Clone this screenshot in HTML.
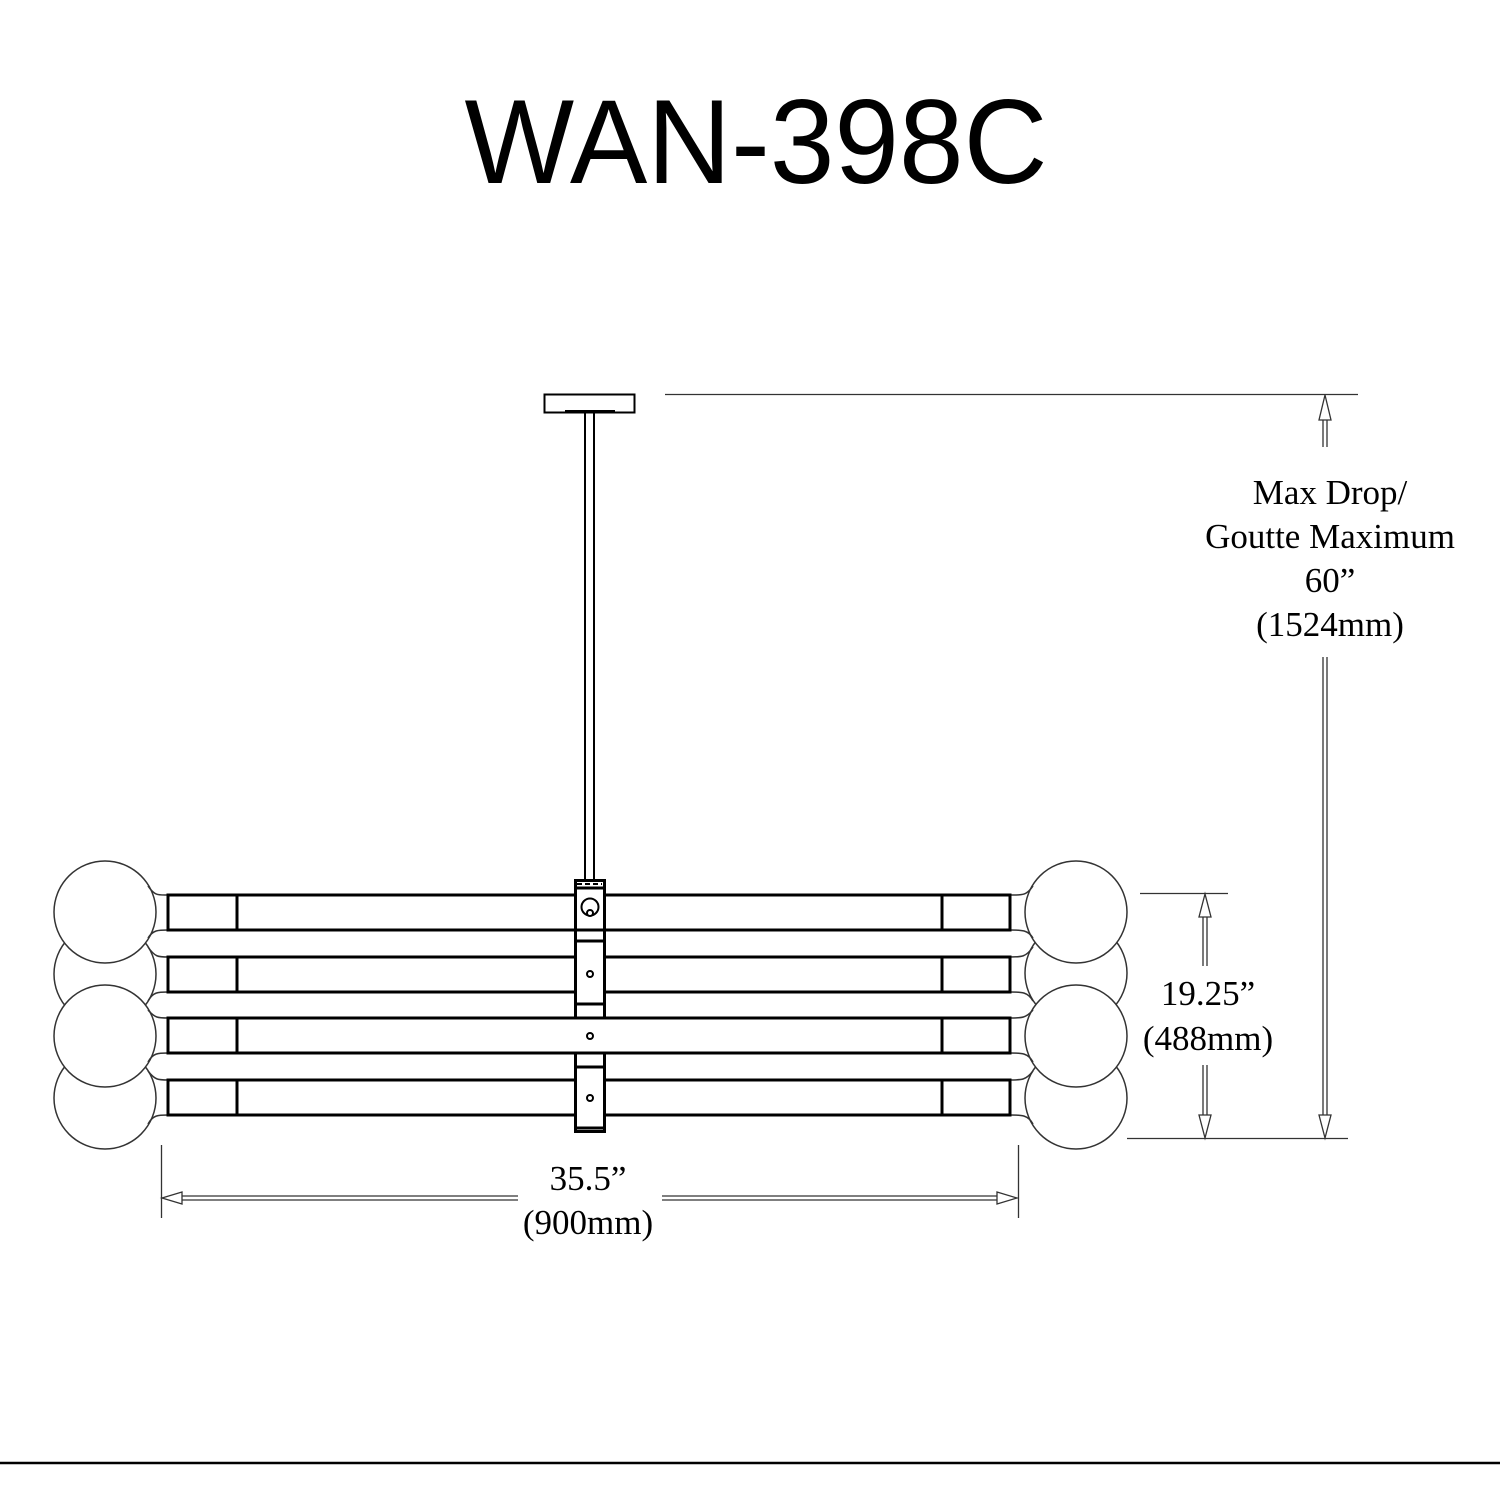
<!DOCTYPE html>
<html><head><meta charset="utf-8"><style>html,body{margin:0;padding:0;background:#fff}svg{display:block}</style></head>
<body>
<svg width="1500" height="1500" viewBox="0 0 1500 1500" xmlns="http://www.w3.org/2000/svg">
<rect width="1500" height="1500" fill="#fff"/>
<text x="756" y="183" font-family="Liberation Sans, sans-serif" font-size="120" text-anchor="middle" textLength="583" lengthAdjust="spacingAndGlyphs">WAN-398C</text>

<rect x="544.5" y="394.5" width="90" height="18" fill="#fff" stroke="#000" stroke-width="2"/>
<line x1="565" y1="411" x2="615" y2="411" stroke="#000" stroke-width="2"/>
<line x1="585" y1="412" x2="585" y2="881" stroke="#000" stroke-width="2"/>
<line x1="594" y1="412" x2="594" y2="881" stroke="#000" stroke-width="2"/>

<g fill="#fff" stroke="#333" stroke-width="1.5">
<circle cx="105" cy="974" r="51"/><circle cx="105" cy="1098" r="51"/>
<circle cx="1076" cy="973" r="51"/><circle cx="1076" cy="1098" r="51"/>
<circle cx="105" cy="912" r="51"/><circle cx="105" cy="1036" r="51"/>
<circle cx="1076" cy="912" r="51"/><circle cx="1076" cy="1036" r="51"/>
</g>
<g fill="none" stroke="#333" stroke-width="1.5">
<path d="M148,886 C155,896 158,895 168,895"/><path d="M148,938 C153,930 158,930 168,930"/>
<path d="M148,947 C155,957 158,957 168,957"/><path d="M148,1001 C153,992 158,992 168,992"/>
<path d="M148,1010 C155,1018 158,1018 168,1018"/><path d="M148,1062 C153,1053 158,1053 168,1053"/>
<path d="M148,1071 C155,1080 158,1080 168,1080"/><path d="M148,1124 C153,1115 158,1115 168,1115"/>
<path d="M1033,886 C1026,896 1022,895 1010,895"/><path d="M1033,938 C1028,930 1022,930 1010,930"/>
<path d="M1033,947 C1026,957 1022,957 1010,957"/><path d="M1033,1001 C1028,992 1022,992 1010,992"/>
<path d="M1033,1010 C1026,1018 1022,1018 1010,1018"/><path d="M1033,1062 C1028,1053 1022,1053 1010,1053"/>
<path d="M1033,1071 C1026,1080 1022,1080 1010,1080"/><path d="M1033,1124 C1028,1115 1022,1115 1010,1115"/>
</g>

<g fill="#fff" stroke="#000" stroke-width="3">
<rect x="168" y="895" width="842" height="35"/>
<rect x="168" y="957" width="842" height="35"/>
<rect x="168" y="1080" width="842" height="35"/>
</g>
<rect x="575.5" y="880.5" width="29" height="251" fill="#fff" stroke="#000" stroke-width="3"/>
<rect x="168" y="1018" width="842" height="35" fill="#fff" stroke="#000" stroke-width="3"/>
<rect x="577" y="1019.5" width="26" height="32" fill="#fff"/>
<g stroke="#000" stroke-width="3">
<line x1="237" y1="895" x2="237" y2="930"/><line x1="237" y1="957" x2="237" y2="992"/><line x1="237" y1="1018" x2="237" y2="1053"/><line x1="237" y1="1080" x2="237" y2="1115"/>
<line x1="942" y1="895" x2="942" y2="930"/><line x1="942" y1="957" x2="942" y2="992"/><line x1="942" y1="1018" x2="942" y2="1053"/><line x1="942" y1="1080" x2="942" y2="1115"/>
<line x1="575" y1="888" x2="604" y2="888"/>
<line x1="575" y1="930" x2="604" y2="930"/>
<line x1="575" y1="941" x2="604" y2="941"/>
<line x1="575" y1="1004" x2="604" y2="1004"/>
<line x1="575" y1="1067" x2="604" y2="1067"/>
<line x1="575" y1="1128" x2="604" y2="1128"/>
</g>
<g stroke="#000" stroke-width="2" fill="#fff">
<line x1="577" y1="884" x2="602" y2="884" stroke-dasharray="5,3"/>
<circle cx="590" cy="907" r="8.5"/>
<circle cx="590" cy="913" r="3"/>
<circle cx="590" cy="974" r="3"/>
<circle cx="590" cy="1036" r="3"/>
<circle cx="590" cy="1098" r="3"/>
</g>

<g stroke="#333" stroke-width="1.3" fill="#fff">
<line x1="665" y1="394.5" x2="1358" y2="394.5"/>
<line x1="1127" y1="1138.5" x2="1348" y2="1138.5"/>
<line x1="1140" y1="893.5" x2="1228" y2="893.5"/>
<line x1="161.5" y1="1145" x2="161.5" y2="1218"/>
<line x1="1018.5" y1="1145" x2="1018.5" y2="1218"/>
<line x1="0" y1="1463" x2="1500" y2="1463" stroke="#000" stroke-width="2.5"/>
<line x1="1323" y1="420" x2="1323" y2="447"/><line x1="1327" y1="420" x2="1327" y2="447"/>
<path d="M1325,395 L1319,420 L1331,420 Z"/>
<line x1="1323" y1="657" x2="1323" y2="1115"/><line x1="1327" y1="657" x2="1327" y2="1115"/>
<path d="M1325,1138 L1319,1115 L1331,1115 Z"/>
<line x1="1203" y1="917" x2="1203" y2="966"/><line x1="1207" y1="917" x2="1207" y2="966"/>
<path d="M1205,894 L1199,917 L1211,917 Z"/>
<line x1="1203" y1="1065" x2="1203" y2="1115"/><line x1="1207" y1="1065" x2="1207" y2="1115"/>
<path d="M1205,1138 L1199,1115 L1211,1115 Z"/>
<line x1="182" y1="1196" x2="518" y2="1196"/><line x1="182" y1="1200" x2="518" y2="1200"/>
<path d="M162,1198 L182,1192 L182,1204 Z"/>
<line x1="662" y1="1196" x2="997" y2="1196"/><line x1="662" y1="1200" x2="997" y2="1200"/>
<path d="M1017,1198 L997,1192 L997,1204 Z"/>
</g>

<g font-family="Liberation Serif, serif" font-size="35" text-anchor="middle" fill="#000">
<text x="1330" y="504">Max Drop/</text>
<text x="1330" y="548">Goutte Maximum</text>
<text x="1330" y="592">60”</text>
<text x="1330" y="636">(1524mm)</text>
<text x="1208" y="1005">19.25”</text>
<text x="1208" y="1050">(488mm)</text>
<text x="588" y="1190">35.5”</text>
<text x="588" y="1234">(900mm)</text>
</g>
</svg>
</body></html>
